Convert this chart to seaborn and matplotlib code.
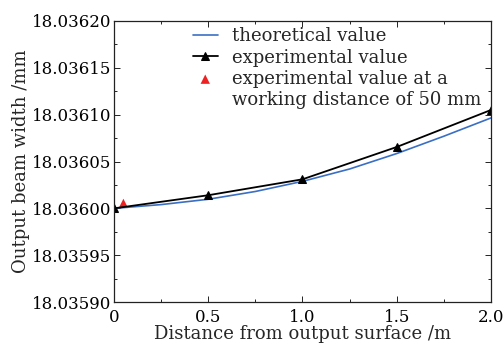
import numpy as np
import pandas as pd
import matplotlib
matplotlib.use("Agg")
import matplotlib.pyplot as plt
import seaborn as sns
from matplotlib.lines import Line2D
from matplotlib.ticker import MultipleLocator, FormatStrFormatter

# Data
theo_x = [0.0, 0.25, 0.5, 0.75, 1.0, 1.25, 1.5, 1.75, 2.0]
theo_y = [18.0360000, 18.0360040, 18.0360097, 18.0360180, 18.0360288,
          18.0360420, 18.0360585, 18.0360770, 18.0360965]
exp_x = [0.0, 0.5, 1.0, 1.5, 2.0]
exp_y = [18.0360000, 18.0360140, 18.0360310, 18.0360655, 18.0361050]
work_x = [0.05]
work_y = [18.0360053]

sns.set_theme(style="ticks")
plt.rcParams['font.family'] = ['DejaVu Serif']
plt.rcParams['mathtext.fontset'] = 'dejavuserif'

fig = plt.figure(figsize=(5.03, 3.44), dpi=100)
ax = fig.add_axes([0.2266, 0.122, 0.7495, 0.817])

df_t = pd.DataFrame({"x": theo_x, "y": theo_y})
df_e = pd.DataFrame({"x": exp_x, "y": exp_y})
df_w = pd.DataFrame({"x": work_x, "y": work_y})

sns.lineplot(data=df_t, x="x", y="y", ax=ax, color="#3a6fc4", lw=1.2,
             label="theoretical value")
sns.lineplot(data=df_e, x="x", y="y", ax=ax, color="black", lw=1.3,
             marker="^", markersize=6, markeredgecolor="black",
             label="experimental value")
sns.scatterplot(data=df_w, x="x", y="y", ax=ax, color="#ee2222", marker="^",
                s=45, edgecolor="none",
                label="experimental value at a")

ax.set_xlim(0, 2.0)
ax.set_ylim(18.03590, 18.03620)
ax.xaxis.set_major_locator(MultipleLocator(0.5))
ax.xaxis.set_minor_locator(MultipleLocator(0.25))
ax.yaxis.set_major_locator(MultipleLocator(0.00005))
ax.yaxis.set_minor_locator(MultipleLocator(0.000025))
ax.yaxis.set_major_formatter(FormatStrFormatter("%.5f"))
ax.xaxis.set_major_formatter(matplotlib.ticker.FuncFormatter(
    lambda v, p: "0" if abs(v) < 1e-9 else f"{v:.1f}"))

ax.tick_params(which="both", direction="in", top=True, right=True,
               labelsize=12, colors="black", width=0.6)
ax.tick_params(which="major", length=4, pad=2)
ax.tick_params(axis="x", which="major", pad=5)
ax.tick_params(which="minor", length=2.5)
for s in ax.spines.values():
    s.set_linewidth(0.9)
    s.set_color("#222222")

ax.set_xlabel("Distance from output surface /m", fontsize=13, labelpad=-1)
ax.set_ylabel("Output beam width /mm", fontsize=13, labelpad=1)

handles, labels = ax.get_legend_handles_labels()
handles.append(Line2D([], [], linestyle="none", marker=None))
labels.append("working distance of 50 mm")
leg = ax.legend(handles, labels, loc="upper right", frameon=False,
                fontsize=13, handlelength=1.4, handletextpad=0.8,
                borderaxespad=0.0, labelspacing=0.18,
                bbox_to_anchor=(0.985, 0.99), borderpad=0.2)

fig.savefig("out.png", dpi=100)
